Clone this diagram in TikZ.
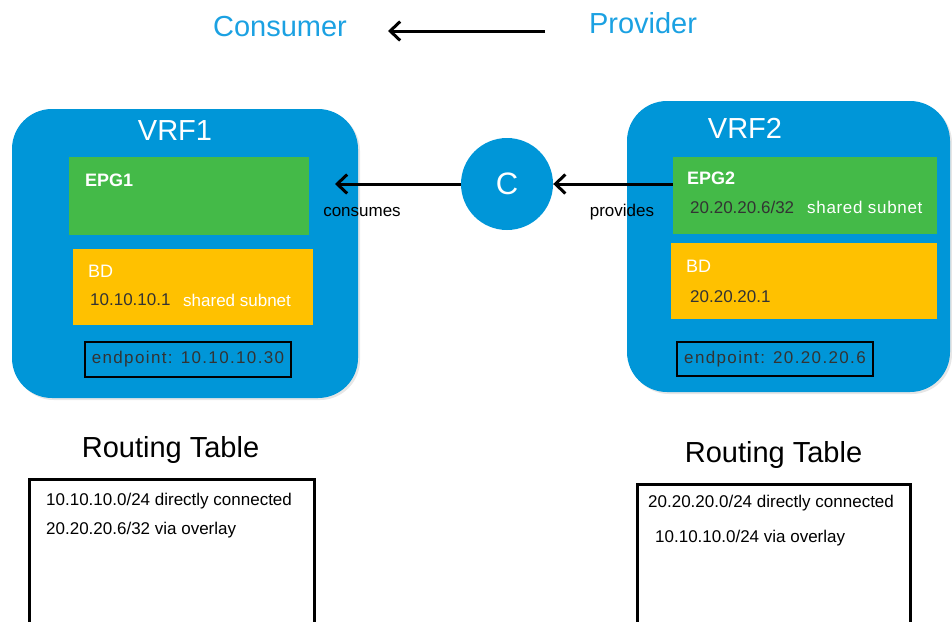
\documentclass[tikz,border=0pt]{standalone}
\usepackage{fontspec}
\setmainfont{Liberation Sans}
\usetikzlibrary{arrows.meta, shadows}
\definecolor{vrfblue}{RGB}{0,150,216}
\definecolor{labblue}{RGB}{27,161,226}
\definecolor{epggreen}{RGB}{68,186,72}
\definecolor{bdyellow}{RGB}{255,193,0}
\newcommand{\fs}[1]{\fontsize{#1}{#1}\selectfont}
\tikzset{
  arr/.style={line width=3pt, -{Straight Barb[length=10pt, width=19pt]}},
  vrf/.style={fill=vrfblue, rounded corners=40pt, inner sep=0pt,
    drop shadow={opacity=0.2, shadow xshift=2pt, shadow yshift=-2pt}},
  vrflbl/.style={text=white, font=\fs{29}, inner sep=0pt},
  epg/.style={fill=epggreen, inner sep=0pt},
  bd/.style={fill=bdyellow, inner sep=0pt},
  ep/.style={draw=black, line width=1.5pt, inner sep=0pt, text=black!80,
    font=\fs{17}\addfontfeature{LetterSpace=8}},
  lbl/.style={font=\fs{17}, inner sep=0pt},
  wlbl/.style={lbl, text=white, anchor=west},
  dlbl/.style={lbl, text=black!80, anchor=west},
  title/.style={font=\fs{29}, text=labblue, inner sep=0pt},
  rtitle/.style={font=\fs{29}, inner sep=0pt},
  rtab/.style={draw, line width=3pt, inner sep=0pt},
}

\begin{document}
\begin{tikzpicture}[x=1pt, y=-1pt]
\useasboundingbox (0,0) rectangle (952,621);
\clip (0,0) rectangle (952,621);

% consumer <- provider
\node[title] (cons) at (280,27) {Consumer};
\node[title] (prov) at (643,23) {Provider};
\coordinate (topa) at (545,31);
\coordinate (topb) at (388,31);
\draw[arr] (topa) -- (topb);

% VRF1
\node[vrf, minimum width=346pt, minimum height=289pt] (vrf1) at (185,253.5) {};
\node[vrflbl] (vrf1lbl) at (175,131) {VRF1};
\node[epg, minimum width=240pt, minimum height=78pt] (epg1) at (189,196) {};
\node[wlbl, font=\fs{18}\bfseries] (epg1lbl) at (85,180) {EPG1};
\node[bd, minimum width=240pt, minimum height=76pt] (bd1) at (193,287) {};
\node[wlbl, font=\fs{18}] (bd1lbl) at (88,271) {BD};
\node[dlbl] (bd1ip) at (90,300) {10.10.10.1};
\node[wlbl] (bd1sh) at (183,300) {shared subnet};
\node[ep, minimum width=206pt, minimum height=35pt] (ep1) at (188,359.5) {endpoint: 10.10.10.30};

% VRF2
\node[vrf, minimum width=323pt, minimum height=291pt] (vrf2) at (788.5,246.5) {};
\node[vrflbl] (vrf2lbl) at (745,128) {VRF2};
\node[epg, minimum width=264pt, minimum height=77pt] (epg2) at (805,195.5) {};
\node[wlbl, font=\fs{18}\bfseries] (epg2lbl) at (687,178) {EPG2};
\node[dlbl] (epg2ip) at (690,207) {20.20.20.6/32};
\node[wlbl, font=\fs{17}\addfontfeature{LetterSpace=4}] (epg2sh) at (807,207) {shared subnet};
\node[bd, minimum width=266pt, minimum height=76pt] (bd2) at (804,281) {};
\node[wlbl, font=\fs{18}] (bd2lbl) at (686,266) {BD};
\node[dlbl] (bd2ip) at (690,297) {20.20.20.1};
\node[ep, minimum width=196pt, minimum height=34pt] (ep2) at (775,359) {endpoint: 20.20.20.6};

% contract
\node[circle, fill=vrfblue, minimum size=92pt, inner sep=0pt, text=white, font=\fs{31}] (cc) at (507,184) {C};
\coordinate (consend) at (335,184);
\draw[arr] (epg2.west |- cc) -- (cc);
\draw[arr] (cc) -- (consend);
\node[lbl] (consumes) at (362,212) {consumes};
\node[lbl] (provides) at (622,212) {provides};

% routing tables
\node[rtitle] (rt1) at (170.5,450) {Routing Table};
\node[rtab, minimum width=285pt, minimum height=171pt] (tab1) at (171.5,564.5) {};
\node[lbl, anchor=west] (tab1a) at (46,501) {10.10.10.0/24 directly connected};
\node[lbl, anchor=west] (tab1b) at (46,530) {20.20.20.6/32 via overlay};

\node[rtitle] (rt2) at (773.5,455) {Routing Table};
\node[rtab, minimum width=273pt, minimum height=166pt] (tab2) at (773.5,567) {};
\node[lbl, anchor=west] (tab2a) at (648,503) {20.20.20.0/24 directly connected};
\node[lbl, anchor=west] (tab2b) at (655,538) {10.10.10.0/24 via overlay};

\end{tikzpicture}
\end{document}
